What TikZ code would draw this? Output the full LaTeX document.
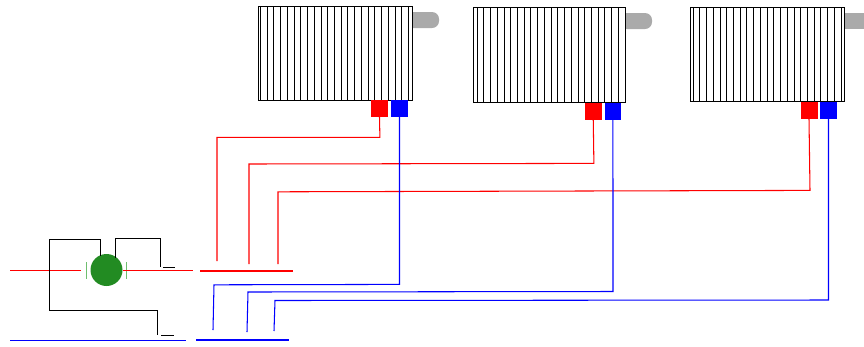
\documentclass[tikz,border=0pt]{standalone}
\usepackage{tikz}
\usetikzlibrary{arrows.meta}
\definecolor{pumpgreen}{RGB}{34,139,34}
\definecolor{handlegray}{RGB}{170,170,170}
\definecolor{bargreen}{RGB}{110,190,110}
\tikzset{
	radiator/.style={draw=black,line width=0.8bp,anchor=north west,inner sep=0pt,outer sep=0pt},
	valve/.style={anchor=north west,inner sep=0pt,outer sep=0pt,minimum width=17bp,minimum height=17bp},
	manifold/.style={anchor=west,inner sep=0pt,outer sep=0pt,minimum height=2.4bp},
	hotpipe/.style={red,line width=1.05bp},
	coldpipe/.style={blue,line width=1.05bp},
	wire/.style={black,line width=1bp}
}

\begin{document}
\begin{tikzpicture}[x=1bp,y=-1bp]
		\useasboundingbox (0,0) rectangle (864,346);
		% handles behind the radiators
		\fill[handlegray,rounded corners=7bp] (405,12) -- (439,12) -- (439,28) -- (405,28) -- cycle;
		\fill[handlegray,rounded corners=7bp] (620,13) -- (652,13) -- (652,29) -- (620,29) -- cycle;
		\fill[handlegray] (845,13) rectangle (864,29);
		% radiators
		\node[radiator,minimum width=153.5bp,minimum height=93.5bp,fill=white] (rad1) at (258.5,6.5) {};
		\node[radiator,minimum width=152bp,minimum height=94.5bp,fill=white] (rad2) at (473.7,7.5) {};
		\node[radiator,minimum width=154bp,minimum height=93.5bp,fill=white] (rad3) at (690.3,7.7) {};
		% fins
		\foreach \i in {0,...,22} {
			\draw[black,line width=0.8bp] ({260.4+6.73*\i},6.5) -- ({260.4+6.73*\i},100);
			\draw[black,line width=0.8bp] ({477+6.73*\i},7.5) -- ({477+6.73*\i},102);
			\draw[black,line width=0.8bp] ({693+6.73*\i},7.7) -- ({693+6.73*\i},101.2);
		}
		% valves
		\node[valve,fill=red]  (hot1)  at (371,100) {};
		\node[valve,fill=blue] (cold1) at (391,100) {};
		\node[valve,fill=red,minimum width=16.5bp,minimum height=16.5bp]  (hot2)  at (585,103.3) {};
		\node[valve,fill=blue,minimum width=16.5bp,minimum height=16.5bp] (cold2) at (604.7,103.3) {};
		\node[valve,fill=red]  (hot3)  at (800.5,102) {};
		\node[valve,fill=blue] (cold3) at (820,102) {};
		% manifolds
		\node[manifold,fill=red,minimum width=93bp]  (hotbar)  at (200,271) {};
		\node[manifold,fill=blue,minimum width=93bp] (coldbar) at (196,340) {};
		\coordinate (hotend1) at (217,261);
		\coordinate (hotend2) at (249,264);
		\coordinate (hotend3) at (278,264);
		\coordinate (coldend1) at (213,330);
		\coordinate (coldend2) at (247,332);
		\coordinate (coldend3) at (274,331);
		% hot pipes
		\draw[hotpipe] (hot1.south) -- (379.9,137.4) -- (217,137.4) -- (hotend1);
		\draw[hotpipe] (hot2.south) -- (593.9,163.4) -- (249,164) -- (hotend2);
		\draw[hotpipe] (hot3.south) -- (810,190.4) -- (278,191.8) -- (hotend3);
		% cold pipes
		\draw[coldpipe] (cold1.south) -- (399.5,284.4) -- (214,284.8) -- (coldend1);
		\draw[coldpipe] (cold2.south) -- (613,291.5) -- (248,292) -- (coldend2);
		\draw[coldpipe] (cold3.south) -- (828.5,300) -- (275,300.5) -- (coldend3);
		% pump
		\node[circle,fill=pumpgreen,inner sep=0pt,outer sep=0pt,minimum size=32bp] (pump) at (106.5,270) {};
		\draw[bargreen,line width=1bp] (86,262) -- (86,279);
		\draw[bargreen,line width=1bp] (126,262) -- (126,279);
		% supply and return lines
		\coordinate (hotin) at (10,270.5);
		\coordinate (hotstop) at (81,270.5);
		\coordinate (hotoutend) at (193,270.9);
		\coordinate (coldin) at (10,340.5);
		\coordinate (coldout) at (186,340.5);
		\draw[hotpipe] (hotin) -- (hotstop);
		\draw[hotpipe] (pump.east |- hotoutend) -- (hotoutend);
		\draw[coldpipe] (coldin) -- (coldout);
		% wiring
		\draw[wire] (100,256) -- (100,239) -- (49.5,239) -- (49.5,310.5) -- (157.5,310.5) -- (157.5,335);
		\draw[wire] (115.5,258) -- (115.5,238) -- (160.5,238) -- (160.5,267);
		\draw[wire] (163,267) -- (175,267);
		\draw[wire] (161,335) -- (174,335);
	\end{tikzpicture}
\end{document}
